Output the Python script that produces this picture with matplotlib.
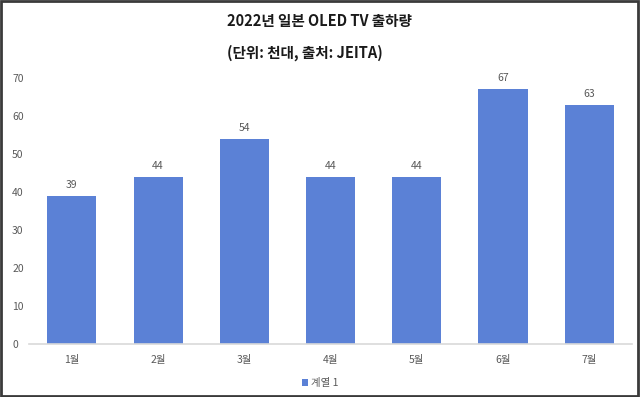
import matplotlib
matplotlib.use("Agg")
from matplotlib import pyplot as plt
from matplotlib.patches import Rectangle

plt.rcParams['font.family'] = ['Noto Sans CJK KR', 'DejaVu Sans']

# data
months = ["1월", "2월", "3월", "4월", "5월", "6월", "7월"]
shipments = [39, 44, 54, 44, 44, 67, 63]
series_name = "계열 1"
y_ticks = [0, 10, 20, 30, 40, 50, 60, 70]

bar_color = "#5b81d6"
text_gray = "#595959"

fig = plt.figure(figsize=(6.4, 3.97), dpi=100)
ax = fig.add_axes([0.045, 0.1335, 0.943, 0.670])

x = range(len(months))
bars = ax.bar(x, shipments, width=0.57, color=bar_color, label=series_name, zorder=2)

for xi, v in zip(x, shipments):
    ax.text(xi, v + 1.6, str(v), ha="center", va="bottom", fontsize=7.5,
            color=text_gray, clip_on=False)

ax.set_xlim(-0.5, 6.5)
ax.set_ylim(0, 70)
ax.set_yticks(y_ticks)
ax.set_xticks(list(x))
ax.set_xticklabels(months)
ax.tick_params(axis="both", length=0, labelsize=7.5, labelcolor=text_gray)
ax.tick_params(axis="x", pad=8)
ax.tick_params(axis="y", pad=12)
for lab in ax.get_yticklabels():
    lab.set_horizontalalignment("left")

for side in ["top", "right", "left"]:
    ax.spines[side].set_visible(False)
ax.spines["bottom"].set_color("#d9d9d9")
ax.spines["bottom"].set_linewidth(1.2)

# title lines are left aligned to each other
fig.text(0.354, 0.948, "2022년 일본 OLED TV 출하량", ha="left", va="center",
         fontsize=10.5, fontweight="bold", color="#1a1a1a")
fig.text(0.354, 0.868, "(단위: 천대, 출처: JEITA)", ha="left", va="center",
         fontsize=10.5, fontweight="bold", color="#1a1a1a")

fig.legend(handles=[bars], labels=[series_name], loc="center",
           bbox_to_anchor=(0.5, 0.035), frameon=False, fontsize=7.5,
           labelcolor=text_gray, handlelength=0.6, handleheight=0.6,
           handletextpad=0.3)

# dark frame around the image
fig.patches.append(Rectangle((0.002, 0.003), 0.995, 0.994, transform=fig.transFigure,
                             fill=False, edgecolor="#3a3a3a", linewidth=2.0))

fig.savefig("out.png", dpi=100)
